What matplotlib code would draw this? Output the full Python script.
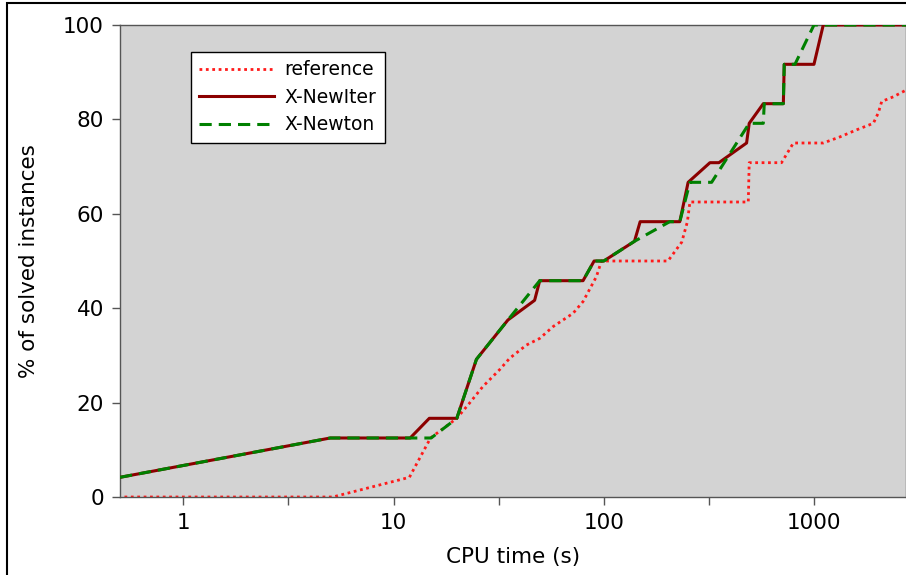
import matplotlib
matplotlib.use("Agg")
import matplotlib.pyplot as plt
from matplotlib.patches import Rectangle

# ---- data (CPU time in s, % of solved instances) ----
ref_t = [0.3, 5.14, 11.9, 15.0, 20.0, 23.0, 26.6, 32.0, 35.7, 42.9, 49.6, 57.4, 71.4,
         79.7, 92.3, 97.5, 202.0, 235.0, 250.0, 257.0, 487.0, 492.0, 701.0, 798.0,
         1107.0, 1330.0, 1597.0, 1916.0, 2024.0, 2100.0, 2387.0, 2740.0]
ref_p = [0.0, 0.0, 4.17, 12.5, 16.67, 19.9, 23.4, 27.0, 29.4, 32.2, 33.6, 36.1, 38.9,
         41.4, 46.7, 50.0, 50.0, 54.0, 58.33, 62.5, 62.5, 70.83, 70.83, 75.0,
         75.0, 76.3, 77.8, 79.17, 81.4, 83.8, 84.8, 86.2]

iter_t = [0.5, 5.0, 12.0, 14.8, 20.0, 24.8, 35.0, 46.9, 49.6, 79.7, 90.0, 100.0, 140.0,
          149.0, 230.0, 252.0, 320.0, 353.0, 478.0, 492.0, 574.0, 715.0, 722.0,
          1000.0, 1107.0, 2740.0]
iter_p = [4.17, 12.5, 12.5, 16.67, 16.67, 29.17, 37.5, 41.67, 45.83, 45.83, 50.0, 50.0,
          54.17, 58.33, 58.33, 66.67, 70.83, 70.83, 75.0, 79.17, 83.33, 83.33, 91.67,
          91.67, 100.0, 100.0]

newton_t = [0.5, 5.0, 15.1, 20.0, 24.8, 35.0, 49.6, 79.7, 90.0, 100.0, 140.0, 206.0,
            230.0, 257.0, 326.0, 492.0, 574.0, 580.0, 715.0, 722.0, 812.0, 1000.0, 2740.0]
newton_p = [4.17, 12.5, 12.5, 16.67, 29.17, 37.5, 45.83, 45.83, 50.0, 50.0, 54.17, 58.33,
            58.33, 66.67, 66.67, 79.17, 79.17, 83.33, 83.33, 91.67, 91.67, 100.0, 100.0]

series_labels = ["reference", "X-NewIter", "X-Newton"]
xtick_vals = [1, 3.1623, 10, 31.623, 100, 316.23, 1000]
xtick_labels = ["1", "", "10", "", "100", "", "1000"]
ytick_vals = [0, 20, 40, 60, 80, 100]

fig = plt.figure(figsize=(9.06, 5.75), dpi=100)
ax = fig.add_axes([120/906, 1 - 497/575, 1 - 120/906, (497 - 25)/575])
ax.set_facecolor("#d3d3d3")

ax.plot(ref_t, ref_p, color="#ff1a1a", lw=2.0, linestyle=(0, (1, 1.3)),
        label=series_labels[0], zorder=2)
ax.plot(iter_t, iter_p, color="#8b0000", lw=2.2, linestyle="-",
        label=series_labels[1], zorder=3)
ax.plot(newton_t, newton_p, color="#008000", lw=2.2, linestyle=(0, (4, 2.3)),
        label=series_labels[2], zorder=4)

ax.set_xscale("log")
ax.set_xlim(0.5, 2740)
ax.set_ylim(0, 100)
ax.set_xticks(xtick_vals)
ax.set_xticklabels(xtick_labels)
ax.xaxis.set_minor_locator(matplotlib.ticker.NullLocator())
ax.set_yticks(ytick_vals)

for s in ax.spines.values():
    s.set_color("#555555")
    s.set_linewidth(1.0)
ax.tick_params(axis="both", direction="out", length=5.5, width=1.0, color="#555555",
               labelsize=15.5, pad=6)

ax.set_xlabel("CPU time (s)", fontsize=15.5, labelpad=10)
ax.set_ylabel("% of solved instances", fontsize=15.5, labelpad=17.5)

leg = ax.legend(loc="upper left", bbox_to_anchor=((191 - 120)/786, (497 - 52)/472),
                borderaxespad=0, fontsize=13.5, handlelength=4.0, handletextpad=0.55,
                labelspacing=0.45, borderpad=0.45, fancybox=False, framealpha=1.0,
                edgecolor="black")
leg.get_frame().set_linewidth(1.0)

fig.patches.append(Rectangle((7/906, -0.2), 1.5, 0.2 + (575 - 3)/575,
                             transform=fig.transFigure, fill=False,
                             edgecolor="black", lw=1.5))

fig.savefig("out.png", dpi=100)
